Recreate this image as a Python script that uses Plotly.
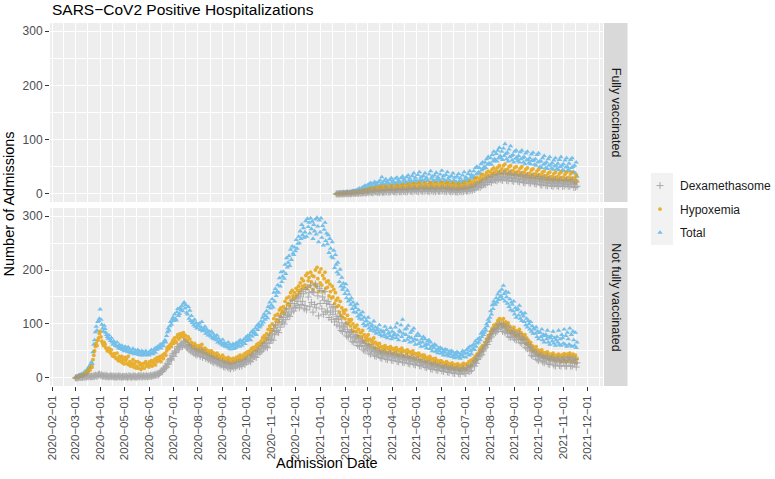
import pandas as pd
import plotly.graph_objects as go

# daily admissions, one row per week (Sun..Sat)
NF_START = "2020-03-01"   # Not fully vaccinated
FV_START = "2021-01-21"   # Fully vaccinated

nf_total = [
    1, 2, 3, 2, 4, 5, 6,
    5, 7, 6, 9, 8, 12, 11,
    14, 13, 18, 21, 19, 25, 29,
    26, 48, 62, 70, 85, 95, 88,
    104, 106, 110, 127, 108, 99, 92,
    86, 97, 91, 84, 80, 76, 73,
    79, 72, 69, 74, 66, 62, 68,
    64, 60, 59, 66, 58, 55, 61,
    57, 54, 60, 52, 56, 50, 58,
    52, 55, 49, 57, 48, 53, 46,
    50, 46, 54, 47, 44, 51, 48,
    45, 52, 43, 49, 47, 42, 50,
    44, 48, 42, 46, 50, 43, 45,
    47, 42, 49, 45, 52, 46, 44,
    50, 54, 47, 56, 52, 58, 55,
    57, 62, 55, 60, 64, 59, 67,
    70, 66, 78, 85, 92, 88, 96,
    104, 99, 108, 112, 106, 118, 110,
    107, 122, 128, 115, 119, 130, 126,
    133, 124, 138, 140, 129, 135, 121,
    118, 132, 110, 125, 106, 115, 102,
    105, 98, 108, 95, 102, 92, 99,
    96, 101, 89, 94, 104, 87, 92,
    88, 95, 82, 90, 85, 79, 86,
    80, 77, 86, 74, 82, 72, 78,
    75, 70, 79, 66, 73, 68, 64,
    67, 62, 71, 60, 65, 58, 63,
    60, 57, 66, 55, 62, 53, 59,
    58, 63, 54, 61, 56, 65, 59,
    62, 67, 58, 70, 64, 60, 68,
    66, 72, 63, 75, 69, 78, 71,
    74, 80, 70, 85, 77, 88, 82,
    84, 92, 80, 97, 89, 100, 94,
    96, 105, 99, 112, 103, 118, 108,
    115, 124, 111, 132, 120, 140, 129,
    135, 146, 131, 158, 142, 165, 152,
    160, 172, 158, 185, 170, 196, 178,
    188, 197, 184, 210, 193, 222, 205,
    214, 226, 208, 238, 219, 244, 231,
    228, 242, 235, 256, 240, 249, 262,
    250, 272, 258, 284, 265, 278, 260,
    270, 291, 262, 295, 280, 288, 268,
    296, 276, 290, 258, 284, 272, 294,
    266, 297, 281, 252, 292, 270, 296,
    260, 282, 246, 275, 288, 254, 268,
    248, 265, 232, 258, 240, 225, 252,
    222, 236, 204, 228, 210, 196, 214,
    192, 178, 201, 170, 186, 164, 175,
    168, 156, 174, 148, 162, 142, 155,
    145, 136, 148, 128, 140, 122, 134,
    130, 121, 137, 114, 126, 110, 118,
    116, 108, 122, 100, 112, 96, 105,
    106, 98, 112, 92, 101, 88, 95,
    98, 90, 105, 86, 94, 82, 89,
    92, 84, 98, 80, 88, 77, 85,
    86, 80, 95, 76, 89, 74, 82,
    84, 78, 93, 72, 86, 75, 80,
    82, 94, 74, 101, 79, 70, 88,
    85, 98, 76, 108, 82, 69, 90,
    80, 92, 71, 97, 76, 66, 84,
    74, 88, 68, 92, 72, 62, 78,
    70, 82, 63, 78, 66, 58, 72,
    66, 76, 59, 72, 62, 55, 68,
    62, 70, 54, 66, 58, 50, 60,
    56, 62, 49, 60, 52, 46, 55,
    50, 56, 45, 54, 48, 42, 52,
    47, 53, 42, 51, 45, 40, 49,
    44, 50, 39, 48, 42, 37, 46,
    42, 48, 38, 46, 40, 36, 44,
    43, 50, 39, 48, 45, 38, 52,
    46, 55, 42, 58, 50, 44, 60,
    54, 62, 52, 68, 58, 64, 72,
    66, 74, 70, 82, 76, 86, 80,
    84, 92, 88, 100, 96, 108, 104,
    112, 124, 118, 135, 128, 142, 138,
    136, 148, 140, 155, 145, 160, 150,
    152, 164, 146, 171, 156, 142, 160,
    150, 138, 158, 132, 146, 126, 140,
    136, 124, 142, 118, 130, 112, 126,
    128, 116, 134, 110, 122, 106, 118,
    114, 104, 120, 98, 110, 94, 106,
    100, 90, 104, 86, 96, 82, 92,
    90, 82, 94, 76, 86, 72, 84,
    84, 76, 90, 70, 80, 66, 78,
    80, 72, 88, 66, 76, 62, 74,
    78, 68, 86, 64, 74, 60, 70,
    76, 66, 88, 62, 72, 60, 80,
    74, 64, 90, 62, 78, 58, 84,
    72, 62, 92, 60, 80, 58, 86,
    70, 60, 84, 56, 66,
]

nf_hypox = [
    0, 1, 2, 1, 2, 3, 4,
    3, 5, 4, 6, 5, 8, 7,
    10, 9, 13, 16, 14, 19, 22,
    20, 34, 42, 50, 58, 64, 60,
    70, 74, 82, 86, 76, 68, 64,
    60, 66, 62, 56, 54, 50, 52,
    55, 48, 46, 52, 42, 40, 45,
    44, 38, 36, 46, 34, 32, 40,
    36, 30, 40, 28, 34, 26, 38,
    32, 36, 26, 40, 24, 30, 22,
    28, 24, 34, 20, 26, 30, 18,
    22, 30, 18, 28, 24, 16, 26,
    20, 26, 18, 28, 30, 22, 24,
    26, 20, 30, 24, 32, 22, 28,
    28, 34, 24, 36, 30, 38, 32,
    34, 40, 30, 38, 42, 36, 44,
    45, 42, 50, 55, 58, 54, 60,
    62, 58, 66, 70, 64, 74, 68,
    66, 76, 80, 72, 74, 82, 78,
    82, 76, 84, 80, 72, 78, 70,
    68, 76, 62, 72, 60, 66, 58,
    62, 56, 64, 54, 60, 52, 58,
    56, 60, 50, 55, 62, 48, 54,
    50, 55, 46, 52, 48, 44, 50,
    46, 42, 50, 40, 47, 38, 44,
    42, 38, 46, 36, 42, 38, 34,
    38, 34, 42, 32, 37, 30, 36,
    34, 30, 38, 28, 35, 27, 33,
    32, 36, 28, 34, 30, 38, 33,
    35, 40, 32, 42, 36, 33, 40,
    38, 44, 36, 46, 41, 48, 43,
    44, 50, 42, 54, 47, 56, 51,
    52, 58, 50, 62, 56, 64, 60,
    60, 68, 63, 74, 66, 78, 70,
    74, 82, 72, 90, 80, 96, 86,
    90, 100, 88, 110, 96, 116, 104,
    108, 118, 104, 126, 114, 130, 120,
    124, 132, 120, 142, 128, 148, 136,
    138, 150, 134, 158, 144, 162, 152,
    146, 158, 150, 166, 154, 162, 170,
    158, 176, 164, 184, 170, 180, 166,
    172, 190, 166, 194, 180, 186, 170,
    196, 178, 190, 164, 188, 174, 200,
    170, 205, 184, 160, 196, 176, 202,
    172, 190, 160, 184, 196, 166, 178,
    168, 180, 152, 174, 160, 148, 170,
    150, 164, 138, 158, 144, 132, 148,
    134, 122, 142, 116, 130, 112, 124,
    120, 110, 126, 102, 116, 100, 108,
    104, 96, 108, 88, 100, 86, 94,
    94, 86, 98, 78, 90, 76, 84,
    84, 76, 88, 68, 80, 66, 74,
    76, 70, 80, 62, 72, 60, 68,
    70, 64, 74, 56, 66, 54, 62,
    62, 56, 64, 50, 58, 48, 55,
    58, 52, 60, 48, 56, 46, 54,
    56, 50, 58, 46, 54, 45, 52,
    54, 49, 56, 44, 52, 42, 50,
    53, 48, 55, 42, 50, 40, 49,
    50, 46, 52, 40, 48, 38, 46,
    48, 44, 50, 37, 45, 35, 43,
    45, 40, 46, 34, 42, 32, 40,
    42, 37, 42, 31, 38, 30, 36,
    38, 34, 40, 28, 35, 26, 33,
    35, 30, 36, 26, 32, 24, 30,
    31, 28, 32, 22, 29, 20, 27,
    28, 25, 30, 20, 27, 18, 24,
    26, 22, 28, 18, 24, 17, 23,
    25, 21, 26, 16, 23, 15, 22,
    24, 20, 27, 17, 25, 16, 26,
    26, 22, 30, 21, 32, 24, 34,
    32, 36, 30, 40, 34, 44, 42,
    46, 52, 48, 56, 50, 60, 56,
    60, 66, 62, 72, 68, 78, 74,
    80, 86, 82, 92, 88, 98, 94,
    92, 100, 94, 106, 98, 110, 102,
    100, 108, 96, 110, 102, 94, 104,
    98, 90, 102, 86, 96, 84, 92,
    90, 84, 94, 80, 88, 78, 86,
    86, 80, 90, 74, 84, 72, 80,
    78, 72, 80, 64, 74, 62, 70,
    64, 58, 66, 52, 60, 50, 56,
    56, 50, 58, 44, 52, 42, 48,
    50, 45, 52, 40, 47, 38, 44,
    47, 42, 48, 36, 44, 35, 42,
    44, 40, 46, 34, 42, 32, 40,
    42, 38, 44, 32, 40, 30, 42,
    42, 36, 45, 31, 40, 30, 44,
    42, 36, 46, 31, 41, 30, 44,
    40, 34, 42, 28, 36,
]

nf_dexa = [
    0, 0, 1, 0, 1, 2, 1,
    1, 2, 1, 3, 2, 1, 3,
    2, 3, 2, 4, 3, 2, 3,
    3, 2, 4, 3, 5, 4, 3,
    5, 6, 7, 5, 4, 6, 3,
    4, 3, 5, 2, 4, 3, 2,
    3, 2, 4, 3, 2, 4, 2,
    2, 3, 1, 3, 2, 4, 2,
    3, 2, 1, 3, 2, 2, 3,
    2, 3, 1, 2, 4, 2, 3,
    1, 3, 2, 4, 2, 3, 1,
    3, 2, 4, 2, 3, 5, 2,
    2, 4, 3, 2, 3, 4, 2,
    3, 4, 2, 5, 3, 4, 5,
    4, 6, 5, 7, 5, 8, 6,
    8, 11, 10, 14, 12, 16, 18,
    18, 22, 20, 27, 25, 31, 34,
    36, 33, 42, 45, 40, 50, 47,
    48, 55, 58, 52, 56, 62, 60,
    64, 58, 66, 68, 60, 65, 57,
    56, 62, 52, 60, 50, 55, 48,
    52, 46, 54, 44, 50, 42, 48,
    46, 50, 40, 45, 52, 38, 44,
    42, 46, 36, 42, 38, 34, 40,
    36, 32, 40, 30, 37, 28, 34,
    32, 28, 36, 26, 31, 27, 24,
    28, 24, 31, 21, 27, 20, 25,
    24, 20, 28, 18, 25, 17, 22,
    21, 26, 18, 24, 20, 28, 22,
    24, 29, 21, 30, 25, 22, 28,
    27, 32, 25, 34, 29, 36, 31,
    32, 38, 30, 42, 35, 44, 39,
    40, 46, 38, 50, 44, 52, 48,
    48, 55, 50, 60, 54, 64, 57,
    58, 66, 56, 74, 64, 78, 70,
    72, 82, 70, 92, 80, 98, 86,
    88, 98, 84, 108, 94, 114, 102,
    104, 112, 100, 122, 108, 128, 116,
    118, 128, 114, 138, 122, 144, 130,
    124, 138, 130, 148, 134, 142, 152,
    130, 150, 136, 160, 142, 156, 128,
    134, 164, 126, 168, 150, 158, 132,
    172, 140, 160, 122, 158, 136, 174,
    130, 170, 152, 115, 166, 138, 162,
    128, 150, 118, 144, 160, 122, 138,
    124, 142, 112, 136, 122, 108, 130,
    118, 132, 104, 124, 110, 98, 114,
    108, 96, 114, 88, 102, 86, 94,
    96, 86, 100, 78, 90, 76, 84,
    84, 76, 86, 68, 80, 66, 74,
    76, 68, 78, 60, 72, 58, 66,
    68, 60, 70, 52, 64, 50, 58,
    60, 54, 62, 46, 56, 44, 52,
    55, 49, 56, 41, 51, 40, 47,
    49, 44, 50, 38, 46, 36, 43,
    46, 41, 48, 35, 44, 34, 42,
    44, 39, 46, 33, 42, 32, 40,
    42, 37, 44, 31, 40, 30, 38,
    40, 35, 42, 29, 38, 28, 36,
    38, 33, 40, 27, 35, 26, 34,
    36, 31, 38, 25, 33, 24, 32,
    33, 28, 34, 23, 30, 22, 29,
    29, 25, 30, 20, 27, 19, 26,
    26, 22, 28, 17, 24, 16, 23,
    24, 20, 25, 15, 21, 14, 20,
    21, 18, 23, 13, 19, 12, 18,
    19, 16, 21, 11, 17, 10, 16,
    18, 14, 19, 9, 15, 8, 14,
    16, 13, 18, 8, 14, 7, 13,
    15, 12, 18, 9, 16, 8, 19,
    16, 13, 20, 12, 22, 14, 24,
    24, 28, 22, 32, 27, 36, 34,
    40, 44, 41, 48, 43, 52, 50,
    54, 60, 57, 66, 62, 72, 68,
    74, 80, 76, 86, 82, 90, 88,
    84, 92, 86, 98, 90, 100, 94,
    92, 98, 86, 100, 94, 84, 96,
    88, 82, 94, 76, 88, 75, 84,
    82, 76, 86, 72, 80, 70, 78,
    78, 72, 82, 66, 76, 64, 72,
    70, 64, 72, 56, 66, 54, 62,
    56, 50, 58, 42, 52, 40, 48,
    46, 40, 48, 34, 43, 32, 40,
    41, 36, 42, 30, 38, 28, 36,
    38, 33, 40, 26, 35, 25, 34,
    36, 31, 38, 24, 33, 22, 32,
    34, 30, 36, 23, 32, 22, 34,
    34, 29, 37, 22, 32, 22, 35,
    34, 29, 38, 22, 33, 22, 36,
    32, 27, 34, 20, 28,
]

fv_total = [
    0, 1, 0,
    1, 0, 2, 1, 2, 1, 3,
    2, 1, 3, 2, 4, 2, 3,
    3, 4, 2, 5, 4, 6, 4,
    5, 7, 4, 8, 6, 10, 7,
    8, 11, 7, 13, 10, 15, 9,
    12, 16, 10, 18, 13, 20, 14,
    14, 19, 12, 22, 16, 20, 15,
    16, 22, 14, 25, 18, 31, 20,
    18, 24, 15, 27, 20, 22, 17,
    19, 26, 16, 29, 21, 24, 18,
    20, 28, 17, 30, 22, 25, 19,
    21, 29, 18, 32, 23, 27, 20,
    22, 31, 19, 34, 24, 28, 21,
    23, 33, 20, 38, 25, 30, 22,
    24, 35, 21, 40, 26, 31, 23,
    25, 33, 22, 38, 27, 30, 24,
    24, 36, 21, 42, 28, 32, 23,
    25, 34, 22, 39, 27, 31, 24,
    26, 36, 22, 43, 28, 33, 24,
    25, 35, 21, 40, 27, 31, 23,
    23, 33, 20, 38, 25, 30, 22,
    22, 32, 19, 37, 24, 29, 21,
    24, 34, 21, 40, 26, 31, 23,
    27, 37, 24, 42, 30, 35, 28,
    33, 42, 30, 48, 36, 50, 38,
    40, 48, 38, 55, 44, 58, 46,
    50, 58, 48, 64, 54, 68, 56,
    56, 66, 54, 72, 60, 78, 64,
    62, 74, 60, 80, 66, 85, 70,
    66, 78, 63, 84, 70, 92, 74,
    64, 76, 60, 82, 68, 88, 70,
    62, 72, 58, 78, 65, 80, 67,
    61, 70, 58, 77, 64, 80, 66,
    58, 68, 55, 75, 62, 78, 63,
    57, 66, 55, 73, 61, 76, 62,
    54, 64, 52, 72, 58, 75, 60,
    50, 60, 48, 66, 54, 70, 56,
    48, 58, 46, 64, 52, 68, 54,
    47, 57, 45, 62, 51, 66, 52,
    46, 56, 44, 63, 50, 68, 52,
    44, 55, 42, 62, 49, 66, 50,
    44, 56, 42, 63, 48, 66, 50,
    40, 52, 38, 58, 32,
]

fv_hypox = [
    0, 0, 0,
    0, 0, 1, 0, 1, 0, 1,
    1, 0, 2, 1, 2, 1, 1,
    1, 2, 1, 3, 2, 3, 2,
    2, 3, 2, 4, 3, 5, 4,
    3, 5, 3, 6, 4, 8, 5,
    5, 7, 4, 9, 6, 10, 7,
    6, 9, 5, 11, 8, 12, 7,
    7, 10, 6, 13, 9, 14, 8,
    8, 11, 7, 14, 10, 12, 9,
    9, 12, 8, 15, 10, 13, 9,
    9, 13, 8, 16, 11, 14, 10,
    10, 14, 9, 17, 12, 15, 10,
    10, 15, 9, 18, 12, 16, 11,
    11, 16, 10, 19, 13, 17, 11,
    11, 17, 10, 20, 13, 18, 12,
    12, 16, 10, 20, 14, 17, 12,
    11, 18, 10, 21, 14, 18, 12,
    12, 17, 10, 20, 13, 18, 12,
    12, 18, 11, 21, 14, 19, 12,
    12, 17, 10, 21, 13, 18, 11,
    11, 16, 9, 20, 12, 17, 10,
    10, 16, 9, 19, 12, 16, 10,
    11, 17, 10, 21, 13, 18, 11,
    13, 19, 12, 24, 15, 21, 14,
    17, 23, 16, 28, 20, 30, 22,
    23, 28, 22, 33, 26, 36, 28,
    29, 34, 28, 39, 32, 42, 34,
    33, 40, 32, 45, 37, 48, 39,
    36, 44, 35, 49, 40, 52, 42,
    38, 46, 37, 52, 42, 55, 44,
    37, 45, 36, 50, 40, 52, 42,
    36, 43, 35, 48, 39, 50, 40,
    35, 42, 34, 47, 38, 50, 39,
    33, 40, 32, 45, 36, 48, 37,
    31, 38, 30, 44, 35, 46, 36,
    30, 37, 30, 42, 34, 45, 35,
    28, 35, 28, 40, 32, 42, 33,
    27, 33, 26, 38, 30, 40, 31,
    26, 32, 25, 37, 29, 40, 30,
    26, 32, 25, 37, 29, 40, 30,
    25, 31, 24, 36, 28, 40, 29,
    25, 31, 24, 37, 28, 40, 29,
    22, 29, 21, 34, 24,
]

fv_dexa = [
    0, 0, 0,
    0, 0, 0, 1, 0, 0, 1,
    0, 1, 0, 1, 1, 0, 1,
    1, 0, 1, 2, 1, 1, 2,
    1, 2, 1, 2, 1, 3, 2,
    1, 3, 2, 3, 2, 4, 2,
    2, 4, 2, 5, 3, 5, 3,
    2, 5, 3, 6, 4, 5, 3,
    3, 5, 2, 7, 4, 6, 3,
    3, 6, 3, 7, 4, 8, 4,
    3, 6, 4, 8, 5, 7, 4,
    4, 7, 3, 8, 5, 9, 4,
    4, 7, 4, 9, 5, 8, 4,
    4, 8, 4, 9, 6, 10, 5,
    5, 8, 4, 10, 6, 9, 5,
    5, 9, 4, 10, 6, 11, 5,
    5, 9, 5, 11, 6, 10, 5,
    5, 9, 4, 11, 6, 10, 5,
    5, 8, 4, 10, 6, 9, 5,
    5, 9, 5, 11, 6, 10, 5,
    5, 9, 4, 11, 6, 10, 5,
    4, 8, 4, 10, 5, 9, 4,
    4, 8, 3, 10, 5, 9, 4,
    5, 9, 4, 11, 6, 10, 5,
    6, 10, 5, 12, 7, 13, 6,
    9, 13, 8, 16, 11, 18, 12,
    13, 17, 12, 21, 15, 24, 17,
    18, 22, 17, 27, 21, 30, 23,
    22, 27, 21, 32, 25, 35, 27,
    25, 30, 24, 35, 27, 38, 29,
    26, 32, 25, 37, 29, 40, 31,
    25, 31, 24, 36, 28, 38, 30,
    24, 30, 23, 34, 27, 36, 28,
    23, 29, 22, 33, 26, 35, 27,
    21, 28, 20, 31, 24, 34, 25,
    20, 27, 20, 30, 23, 33, 24,
    19, 26, 18, 29, 22, 32, 23,
    17, 24, 16, 27, 20, 30, 21,
    16, 22, 15, 26, 19, 28, 20,
    15, 21, 14, 25, 18, 27, 19,
    15, 21, 14, 24, 18, 26, 19,
    14, 20, 14, 24, 17, 26, 18,
    14, 20, 14, 24, 17, 26, 18,
    12, 18, 12, 22, 14,
]

MONTH_TICKS = pd.date_range("2020-02-01", "2021-12-01", freq="MS")
TICK_LABELS = [d.strftime("%Y-%m-%d").replace("-", "\u2212") for d in MONTH_TICKS]
MID_TICKS = [a + (b - a) / 2 for a, b in zip(MONTH_TICKS[:-1], MONTH_TICKS[1:])]
MID_TICKS.append(MONTH_TICKS[-1] + pd.Timedelta(days=15))

FONT = "Liberation Sans, Arial, Helvetica, sans-serif"
COLORS = {"Dexamethasome": "#999999", "Hypoxemia": "#E69F00", "Total": "#56B4E9"}

fig = go.Figure()


def add_panel(start, total, hypox, dexa, xa, ya, legend):
    series = [
        ("Total", total, dict(symbol="triangle-up", size=4.8, color=COLORS["Total"]), 3),
        ("Hypoxemia", hypox, dict(symbol="circle", size=3.8, color=COLORS["Hypoxemia"]), 2),
        ("Dexamethasome", dexa,
         dict(symbol="cross-thin", size=5, color=COLORS["Dexamethasome"],
              line=dict(width=1, color=COLORS["Dexamethasome"])), 1),
    ]
    for name, vals, marker, rank in series:
        dates = pd.date_range(start, periods=len(vals), freq="D")
        fig.add_trace(go.Scatter(
            x=dates, y=vals, mode="markers", name=name, marker=marker,
            opacity=0.8, xaxis=xa, yaxis=ya, showlegend=legend,
            legendgroup=name, legendrank=rank,
        ))


add_panel(FV_START, fv_total, fv_hypox, fv_dexa, "x2", "y", False)
add_panel(NF_START, nf_total, nf_hypox, nf_dexa, "x", "y2", True)

# plot area: x 50..603 px, y 23..386 px
top_dom = [0.5069, 1.0]
bot_dom = [0.0, 0.4904]

xcommon = dict(
    range=["2020-01-29 06:00", "2021-12-20 12:00"],
    tickmode="array", tickvals=MONTH_TICKS, ticktext=TICK_LABELS,
    showgrid=True, gridcolor="white", gridwidth=1.1,
    minor=dict(tickmode="array", tickvals=MID_TICKS, showgrid=True,
               gridcolor="white", gridwidth=0.55, ticks=""),
    zeroline=False, showline=False, automargin=False,
)
ycommon = dict(
    range=[-15, 315], tickmode="array", tickvals=[0, 100, 200, 300],
    showgrid=True, gridcolor="white", gridwidth=1.1,
    minor=dict(tickmode="array", tickvals=[50, 150, 250], showgrid=True,
               gridcolor="white", gridwidth=0.55, ticks=""),
    ticks="outside", ticklen=4, tickcolor="#333333", tickwidth=1,
    tickfont=dict(size=12, color="#4D4D4D"),
    zeroline=False, showline=False, automargin=False,
)

fig.update_layout(
    template="none",
    width=775, height=479,
    margin=dict(l=50, r=172, t=23, b=93, autoexpand=False),
    paper_bgcolor="white", plot_bgcolor="#EEEEEE",
    font=dict(family=FONT, size=12, color="#4D4D4D"),
    xaxis=dict(xcommon, domain=[0, 1], anchor="y2", tickangle=-90,
               ticks="outside", ticklen=4, tickcolor="#333333", tickwidth=1,
               tickfont=dict(size=11.5, color="#4D4D4D")),
    xaxis2=dict(xcommon, domain=[0, 1], anchor="y", matches="x",
                showticklabels=False, ticks=""),
    yaxis=dict(ycommon, domain=top_dom, anchor="x2"),
    yaxis2=dict(ycommon, domain=bot_dom, anchor="x"),
    legend=dict(x=1.0669, xanchor="left", y=0.592, yanchor="top",
                font=dict(size=12, color="#1A1A1A"), bgcolor="rgba(0,0,0,0)",
                borderwidth=0, tracegroupgap=4.5, itemclick=False),
    showlegend=True,
)

# title
fig.add_annotation(text="SARS\u2212CoV2 Positive Hospitalizations", xref="paper", yref="paper",
                   x=0, xanchor="left", y=(386 - 10) / 363, yanchor="middle",
                   showarrow=False, font=dict(size=15.5, color="black"))

# facet strips
strip_x0, strip_x1 = 554 / 553, 577.5 / 553
for dom, label in [(top_dom, "Fully vaccinated"), (bot_dom, "Not fully vaccinated")]:
    fig.add_shape(type="rect", xref="paper", yref="paper", x0=strip_x0, x1=strip_x1,
                  y0=dom[0], y1=dom[1], fillcolor="#D9D9D9", line=dict(width=0), layer="below")
    fig.add_annotation(text=label, xref="paper", yref="paper", x=(strip_x0 + strip_x1) / 2,
                       y=(dom[0] + dom[1]) / 2, xanchor="center", yanchor="middle",
                       textangle=90, showarrow=False,
                       font=dict(size=12.5, color="#1A1A1A"))

# legend key background
fig.add_shape(type="rect", xref="paper", yref="paper", x0=601 / 553, x1=623 / 553,
              y0=(386 - 245) / 363, y1=(386 - 173) / 363, fillcolor="#F2F2F2",
              line=dict(width=0), layer="below")

fig.add_annotation(text="Number of Admissions", xref="paper", yref="paper",
                   x=-42 / 553, y=0.5, xanchor="center", yanchor="middle",
                   textangle=-90, showarrow=False,
                   font=dict(size=14.5, color="black"))
fig.add_annotation(text="Admission Date", xref="paper", yref="paper",
                   x=0.5, y=(386 - 463) / 363, xanchor="center", yanchor="middle",
                   showarrow=False, font=dict(size=14.5, color="black"))

fig.write_html("out.html", config={"displayModeBar": False},
               post_script="document.body.style.margin='0px';")
